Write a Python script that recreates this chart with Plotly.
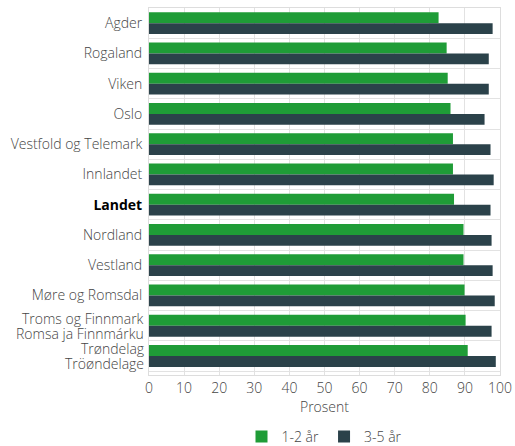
import plotly.graph_objects as go

categories = ["Agder", "Rogaland", "Viken", "Oslo", "Vestfold og Telemark", "Innlandet",
              "Landet", "Nordland", "Vestland", "Møre og Romsdal", "Troms og Finnmark",
              "Trøndelag"]
tick_labels = ["Agder", "Rogaland", "Viken", "Oslo", "Vestfold og Telemark", "Innlandet",
               "<span style=\"color:#000000\"><b>Landet</b></span>", "Nordland", "Vestland",
               "Møre og Romsdal", "", ""]
two_line_labels = {"Troms og Finnmark": ["Troms og Finnmark", "Romsa ja Finnmárku"],
                   "Trøndelag": ["Trøndelag", "Tröøndelage"]}
age_1_2 = [82.5, 84.8, 85.1, 85.9, 86.6, 86.6, 86.9, 89.6, 89.6, 89.9, 90.2, 90.8]
age_3_5 = [97.9, 96.8, 96.8, 95.6, 97.3, 98.2, 97.3, 97.6, 97.9, 98.5, 97.6, 98.8]
x_ticks = [0, 10, 20, 30, 40, 50, 60, 70, 80, 90, 100]

FONT = "Open Sans"
fig = go.Figure()
fig.add_trace(go.Bar(y=categories, x=age_1_2, name="1-2 år", orientation="h",
                     marker=dict(color="#1f9c37", line=dict(width=0))))
fig.add_trace(go.Bar(y=categories, x=age_3_5, name="3-5 år", orientation="h",
                     marker=dict(color="#2b424a", line=dict(width=0))))

annotations = []
for cat, lines in two_line_labels.items():
    for i, txt in enumerate(lines):
        annotations.append(dict(
            text=txt, xref="paper", x=0, xanchor="right", xshift=-3,
            yref="y", y=cat, yanchor="middle", yshift=7.5 if i == 0 else -7.5,
            showarrow=False, font=dict(family=FONT, size=14, color="#444444", weight=300)))

fig.update_layout(
    width=515, height=446,
    margin=dict(l=149, r=15, t=8, b=71, autoexpand=False),
    barmode="group", bargap=0.28, bargroupgap=0,
    paper_bgcolor="white", plot_bgcolor="white",
    font=dict(family=FONT, size=14, color="#444444", weight=300),
    showlegend=True,
    legend=dict(orientation="h", x=0.5, xanchor="center", y=-0.125, yanchor="top",
                font=dict(size=14, color="#444444", weight=300), itemwidth=30,
                traceorder="normal"),
    annotations=annotations,
    xaxis=dict(range=[0, 100], tickvals=x_ticks, showgrid=True, gridcolor="#e2e2e2", gridwidth=1,
               showline=True, linecolor="#dddddd", linewidth=1, mirror=True, zeroline=False,
               ticks="", automargin=False,
               title=dict(text="Prosent", standoff=2, font=dict(size=14))),
    yaxis=dict(autorange="reversed", type="category", tickson="boundaries", showgrid=True,
               tickvals=categories, ticktext=tick_labels,
               gridcolor="#e2e2e2", gridwidth=1, showline=True, linecolor="#dddddd", mirror=True,
               ticks="", ticklabelstandoff=3, automargin=False),
)

fig.write_html("out.html", config={"displayModeBar": False},
               post_script="document.body.style.margin='0';document.body.style.overflow='hidden';")
